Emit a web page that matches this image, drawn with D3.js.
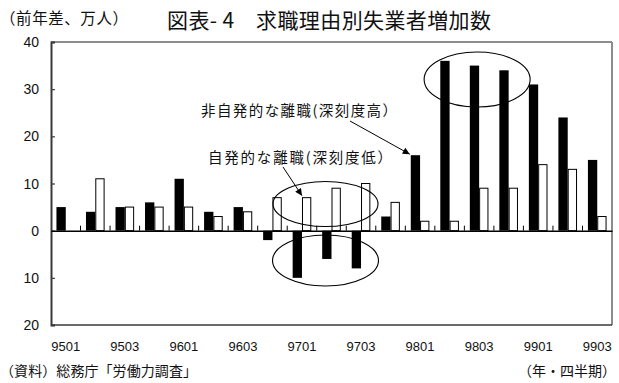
<!DOCTYPE html>
<html>
<head>
<meta charset="utf-8">
<script src="https://cdn.jsdelivr.net/npm/d3@7"></script>
<style>
  html, body { margin: 0; padding: 0; background: #fff; }
  svg { display: block; }
  .jp { font-family: "Noto Sans CJK JP", "Noto Sans", sans-serif; fill: #111; }
  .num { font-family: "Liberation Sans", Arial, sans-serif; fill: #111; }
</style>
</head>
<body>
<svg id="chart" width="619" height="383"></svg>
<script>
// Quarters (YYQQ)
const categories = ["9501","9502","9503","9504","9601","9602","9603","9604",
                    "9701","9702","9703","9704","9801","9802","9803","9804",
                    "9901","9902","9903"];
// Involuntary separations (black), year-on-year change, 10k persons
const involuntary = [5, 4, 5, 6, 11, 4, 5, -2, -10, -6, -8, 3, 16, 36, 35, 34, 31, 24, 15];
// Voluntary separations (white)
const voluntary   = [0, 11, 5, 5, 5, 3, 4, 7, 7, 9, 10, 6, 2, 2, 9, 9, 14, 13, 3];
const yTicks = [40, 30, 20, 10, 0, -10, -20];
const xLabels = ["9501","9503","9601","9603","9701","9703","9801","9803","9901","9903"];
const seriesKeys = ["inv", "vol"];

const svg = d3.select("#chart");
const L = 51, R = 612, T = 42, B = 325;

const x = d3.scaleBand().domain(categories).range([L, R]).padding(0);
const xs = d3.scaleBand().domain(seriesKeys).range([0, x.bandwidth()])
  .paddingInner(0).paddingOuter(0.585);
const y = d3.scaleLinear().domain([-20, 40]).range([B, T]);
const mid = c => x(c) + x.bandwidth() / 2;

const rows = categories.map((c, i) => ({ c, inv: involuntary[i], vol: voluntary[i] }));

// Bars
const g = svg.append("g");
seriesKeys.forEach(k => {
  g.selectAll("rect." + k).data(rows).join("rect")
    .attr("class", k)
    .attr("x", d => x(d.c) + xs(k) + (k === "vol" ? 0.5 : 0))
    .attr("width", xs.bandwidth() - (k === "vol" ? 1 : 0))
    .attr("y", d => y(Math.max(0, d[k])))
    .attr("height", d => Math.abs(y(d[k]) - y(0)))
    .attr("fill", k === "inv" ? "#000" : "#fff")
    .attr("stroke", k === "inv" ? "none" : "#000")
    .attr("stroke-width", 1);
});

// Frame: top/right light, left/bottom dark
svg.append("line").attr("x1", L).attr("x2", R).attr("y1", T).attr("y2", T)
  .attr("stroke", "#8c8c8c").attr("stroke-width", 2);
svg.append("line").attr("x1", R).attr("x2", R).attr("y1", T).attr("y2", B)
  .attr("stroke", "#8c8c8c").attr("stroke-width", 2);
svg.append("line").attr("x1", L).attr("x2", R).attr("y1", B).attr("y2", B)
  .attr("stroke", "#3a3a3a").attr("stroke-width", 1.5);

// Left axis with inward ticks and absolute-value labels
const yAxis = d3.axisRight(y).tickValues(yTicks).tickSize(4).tickFormat("");
const ya = svg.append("g").attr("transform", `translate(${L},0)`).call(yAxis);
ya.select(".domain").attr("stroke", "#3a3a3a").attr("stroke-width", 2);
ya.selectAll(".tick line").attr("stroke", "#3a3a3a").attr("stroke-width", 1.2);
svg.append("g").selectAll("text").data(yTicks).join("text")
  .attr("class", "num")
  .attr("x", 39).attr("y", d => y(d))
  .attr("dy", "0.36em")
  .attr("text-anchor", "end")
  .attr("font-size", 14)
  .text(d => Math.abs(d));

// Zero line with upward category ticks
const xAxis = d3.axisTop(x).tickSize(0).tickFormat("");
const xa = svg.append("g").attr("transform", `translate(0,${y(0)})`).call(xAxis);
xa.select(".domain").attr("stroke", "#000").attr("stroke-width", 1.5);
svg.append("g").selectAll("line").data(categories.slice(1)).join("line")
  .attr("x1", d => x(d)).attr("x2", d => x(d))
  .attr("y1", y(0)).attr("y2", y(0) - 5)
  .attr("stroke", "#000").attr("stroke-width", 1);

// Quarter labels
svg.append("g").selectAll("text").data(xLabels).join("text")
  .attr("class", "num")
  .attr("x", d => mid(d))
  .attr("y", 351)
  .attr("text-anchor", "middle")
  .attr("font-size", 13)
  .text(d => d);

// Titles and notes
svg.append("text").attr("class", "jp").attr("x", 0).attr("y", 24)
  .attr("font-size", 15.5).attr("textLength", 128).attr("lengthAdjust", "spacing")
  .text("（前年差、万人）");
svg.append("text").attr("class", "jp").attr("x", 167).attr("y", 28)
  .attr("font-size", 21).attr("textLength", 324).attr("lengthAdjust", "spacing")
  .text("図表- 4　求職理由別失業者増加数");
svg.append("text").attr("class", "jp").attr("x", 0).attr("y", 376)
  .attr("font-size", 14).attr("textLength", 197).attr("lengthAdjust", "spacing")
  .text("（資料）総務庁「労働力調査」");
svg.append("text").attr("class", "jp").attr("x", 616).attr("y", 376)
  .attr("font-size", 14).attr("text-anchor", "end")
  .text("（年・四半期）");

// Annotation labels
svg.append("text").attr("class", "jp").attr("x", 201).attr("y", 116)
  .attr("font-size", 14.5).attr("textLength", 196).attr("lengthAdjust", "spacing")
  .text("非自発的な離職(深刻度高）");
svg.append("text").attr("class", "jp").attr("x", 208).attr("y", 162.5)
  .attr("font-size", 14.5).attr("textLength", 184).attr("lengthAdjust", "spacing")
  .text("自発的な離職(深刻度低）");

// Arrows pointing to the bars they describe
const defs = svg.append("defs");
defs.append("marker").attr("id", "ah").attr("viewBox", "0 0 10 10")
  .attr("refX", 10).attr("refY", 5).attr("markerWidth", 8).attr("markerHeight", 7)
  .attr("markerUnits", "userSpaceOnUse").attr("orient", "auto")
  .append("path").attr("d", "M0,0 L10,5 L0,10 z").attr("fill", "#000");

const tipInv = [x("9801") + xs("inv"), y(involuntary[12])];
const tipVol = [x("9701") + xs("vol"), y(voluntary[8])];
svg.append("line").attr("x1", 350).attr("y1", 121).attr("x2", tipInv[0] - 1).attr("y2", tipInv[1] - 1)
  .attr("stroke", "#000").attr("stroke-width", 1).attr("marker-end", "url(#ah)");
svg.append("line").attr("x1", 283).attr("y1", 167).attr("x2", tipVol[0]).attr("y2", tipVol[1] - 2)
  .attr("stroke", "#000").attr("stroke-width", 1).attr("marker-end", "url(#ah)");

// Highlight ellipses
const ellipses = [
  { cx: mid("9803") - 2, cy: 79.5, rx: 53, ry: 27.5 },
  { cx: mid("9702") - 6, cy: 204, rx: 52.5, ry: 22.5 },
  { cx: mid("9702") - 6, cy: 260.5, rx: 53, ry: 25.5 }
];
svg.append("g").selectAll("ellipse").data(ellipses).join("ellipse")
  .attr("cx", d => d.cx).attr("cy", d => d.cy)
  .attr("rx", d => d.rx).attr("ry", d => d.ry)
  .attr("fill", "none").attr("stroke", "#000").attr("stroke-width", 1.1);
</script>
</body>
</html>
